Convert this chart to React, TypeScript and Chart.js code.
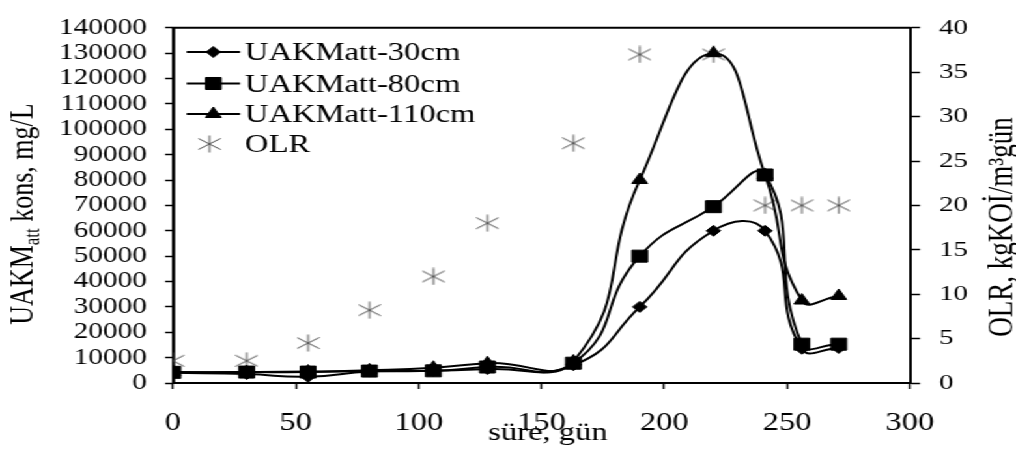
import React, { useEffect, useRef } from 'react';
import { Chart, registerables } from 'chart.js';

Chart.register(...registerables);

// ---- data ----
const days = [0, 30, 55, 80, 106, 128, 163, 190, 220, 241, 256, 271];
const uakm30 = [4000, 3500, 2500, 4500, 4800, 5500, 7000, 30000, 60000, 60000, 13500, 13800];
const uakm80 = [4200, 4300, 4300, 4700, 4800, 6300, 7800, 50000, 69500, 82000, 15300, 15300];
const uakm110 = [4300, 4300, 4500, 5000, 6000, 7800, 8500, 80000, 130000, 82000, 32500, 34300];
const olr = [2.5, 2.5, 4.5, 8.2, 12, 18, 27, 37, 37, 20, 20, 20];
const seriesLabels = ['UAKMatt-30cm', 'UAKMatt-80cm', 'UAKMatt-110cm', 'OLR'];
const xTitle = 'süre, gün';
const yLeftTitle = ['UAKM', 'att', ' kons, mg/L'];
const yRightTitle = 'OLR, kgKOİ/m³gün';

const FONT = "'Liberation Serif', 'Times New Roman', serif";
const W = 780;
const H = 457;
const STRETCH = 1016 / W;

function makeStar(): HTMLCanvasElement {
  const c = document.createElement('canvas');
  c.width = 18;
  c.height = 18;
  const g = c.getContext('2d')!;
  g.strokeStyle = '#4a4a4a';
  g.lineWidth = 1;
  g.beginPath();
  g.moveTo(9, 0.5);
  g.lineTo(9, 17.5);
  g.moveTo(0.5, 3.5);
  g.lineTo(17.5, 14.5);
  g.moveTo(0.5, 14.5);
  g.lineTo(17.5, 3.5);
  g.stroke();
  return c;
}

function drawMarker(ctx: CanvasRenderingContext2D, style: any, x: number, y: number, r: number) {
  ctx.save();
  ctx.fillStyle = '#000';
  ctx.strokeStyle = '#000';
  ctx.lineWidth = 1;
  if (style instanceof HTMLCanvasElement) {
    ctx.drawImage(style, x - style.width / 2, y - style.height / 2);
    ctx.restore();
    return;
  }
  ctx.beginPath();
  if (style === 'rectRot') {
    ctx.moveTo(x, y - r);
    ctx.lineTo(x + r, y);
    ctx.lineTo(x, y + r);
    ctx.lineTo(x - r, y);
    ctx.closePath();
  } else if (style === 'rect') {
    const s = r * Math.SQRT1_2;
    ctx.rect(x - s, y - s, 2 * s, 2 * s);
  } else if (style === 'triangle') {
    ctx.moveTo(x, y - r);
    ctx.lineTo(x + r * Math.sin((2 * Math.PI) / 3), y + r * 0.5);
    ctx.lineTo(x - r * Math.sin((2 * Math.PI) / 3), y + r * 0.5);
    ctx.closePath();
  }
  ctx.fill();
  ctx.stroke();
  ctx.restore();
}

function drawRotated(
  ctx: CanvasRenderingContext2D,
  segs: { t: string; size: number; dy?: number }[],
  x: number,
  yc: number
) {
  ctx.save();
  let total = 0;
  const widths = segs.map((s) => {
    ctx.font = `${s.size}px ${FONT}`;
    const w = ctx.measureText(s.t).width;
    total += w;
    return w;
  });
  ctx.translate(x, yc);
  ctx.rotate(-Math.PI / 2);
  ctx.textAlign = 'left';
  ctx.textBaseline = 'alphabetic';
  ctx.fillStyle = '#000';
  let cx = -total / 2;
  segs.forEach((s, i) => {
    ctx.font = `${s.size}px ${FONT}`;
    ctx.fillText(s.t, cx, s.dy || 0);
    cx += widths[i];
  });
  ctx.restore();
}

const decorPlugin = {
  id: 'decor',
  afterDraw(chart: any) {
    const ctx: CanvasRenderingContext2D = chart.ctx;
    const { left, right, top } = chart.chartArea;
    ctx.save();
    // top frame line
    ctx.strokeStyle = '#000';
    ctx.lineWidth = 2;
    ctx.beginPath();
    ctx.moveTo(left - 1, top);
    ctx.lineTo(right + 1, top);
    ctx.stroke();

    // x title
    ctx.fillStyle = '#000';
    ctx.font = `25px ${FONT}`;
    ctx.textAlign = 'center';
    ctx.textBaseline = 'alphabetic';
    ctx.fillText(xTitle, 420.7, 440);

    // y titles
    drawRotated(
      ctx,
      [
        { t: yLeftTitle[0], size: 26 },
        { t: yLeftTitle[1], size: 17, dy: 5 },
        { t: yLeftTitle[2], size: 26 },
      ],
      25.3,
      214
    );
    drawRotated(ctx, [{ t: yRightTitle, size: 27 }], 777, 227);

    // legend
    const baselines = [60, 91.5, 122, 152];
    const x1 = 143.3;
    const x2 = 184.3;
    const xm = 163.8;
    const xt = 188.1;
    chart.data.datasets.forEach((ds: any, i: number) => {
      const yb = baselines[i];
      const ym = yb - 8;
      if (ds.showLine !== false) {
        ctx.strokeStyle = '#000';
        ctx.lineWidth = 2;
        ctx.beginPath();
        ctx.moveTo(x1, ym);
        ctx.lineTo(x2, ym);
        ctx.stroke();
      }
      drawMarker(ctx, ds.pointStyle, xm - (ds.showLine === false ? 3 : 0), ym, ds.pointRadius);
      ctx.fillStyle = '#000';
      ctx.font = `25px ${FONT}`;
      ctx.textAlign = 'left';
      ctx.textBaseline = 'alphabetic';
      ctx.fillText(ds.label, xt, yb);
    });
    ctx.restore();
  },
};

export default function App() {
  const ref = useRef<HTMLCanvasElement | null>(null);

  useEffect(() => {
    if (!ref.current) return;
    const star = makeStar();
    const mk = (vals: number[]) => days.map((d, i) => ({ x: d, y: vals[i] }));
    const lineDs = (label: string, vals: number[], style: string, r: number) => ({
      label,
      data: mk(vals),
      yAxisID: 'y',
      borderColor: '#000',
      backgroundColor: '#000',
      borderWidth: 2,
      tension: 0.5,
      pointStyle: style,
      pointRadius: r,
      pointBorderWidth: 1,
      pointBackgroundColor: '#000',
      pointBorderColor: '#000',
    });
    const chart = new Chart(ref.current, {
      type: 'line',
      data: {
        datasets: [
          lineDs(seriesLabels[0], uakm30, 'rectRot', 5.5),
          lineDs(seriesLabels[1], uakm80, 'rect', 8.5),
          lineDs(seriesLabels[2], uakm110, 'triangle', 7),
          {
            label: seriesLabels[3],
            data: mk(olr),
            yAxisID: 'y1',
            showLine: false,
            borderColor: '#4a4a4a',
            backgroundColor: '#4a4a4a',
            pointStyle: star as any,
            pointRadius: 9,
          } as any,
        ],
      },
      options: {
        responsive: false,
        animation: false,
        devicePixelRatio: 1,
        layout: { padding: { top: 15, left: 0, right: 0, bottom: 0 } },
        plugins: {
          legend: { display: false },
          tooltip: { enabled: false },
        },
        scales: {
          x: {
            type: 'linear',
            min: 0,
            max: 300,
            ticks: {
              stepSize: 50,
              color: '#000',
              font: { family: FONT, size: 25 },
              padding: 19,
            },
            grid: {
              drawOnChartArea: false,
              drawTicks: true,
              tickLength: 6,
              tickColor: '#000',
              tickWidth: 1.5,
            },
            border: { display: true, color: '#000', width: 2 },
            afterFit: (s: any) => {
              s.height = 74;
            },
          },
          y: {
            type: 'linear',
            position: 'left',
            min: 0,
            max: 140000,
            ticks: {
              stepSize: 10000,
              autoSkip: false,
              color: '#000',
              font: { family: FONT, size: 22.5, lineHeight: 1 },
              padding: 14,
              callback: (v: any) => String(v),
            },
            grid: {
              drawOnChartArea: false,
              drawTicks: true,
              tickLength: 6,
              tickColor: '#000',
              tickWidth: 1.5,
            },
            border: { display: true, color: '#000', width: 2.5 },
            afterFit: (s: any) => {
              s.width = 132.8;
            },
          },
          y1: {
            type: 'linear',
            position: 'right',
            min: 0,
            max: 40,
            ticks: {
              stepSize: 5,
              autoSkip: false,
              color: '#000',
              font: { family: FONT, size: 22 },
              padding: 14.6,
            },
            grid: {
              drawOnChartArea: false,
              drawTicks: true,
              tickLength: 7.7,
              tickColor: '#000',
              tickWidth: 1.5,
            },
            border: { display: true, color: '#000', width: 2 },
            afterFit: (s: any) => {
              s.width = W - 698.6;
            },
          },
        },
      } as any,
      plugins: [decorPlugin],
    });
    return () => chart.destroy();
  }, []);

  return (
    <div
      style={{
        position: 'absolute',
        left: 0,
        top: 0,
        width: W,
        height: H,
        transform: `scaleX(${STRETCH})`,
        transformOrigin: '0 0',
        background: '#fff',
      }}
    >
      <canvas ref={ref} width={W} height={H} style={{ width: W, height: H, display: 'block' }} />
    </div>
  );
}
